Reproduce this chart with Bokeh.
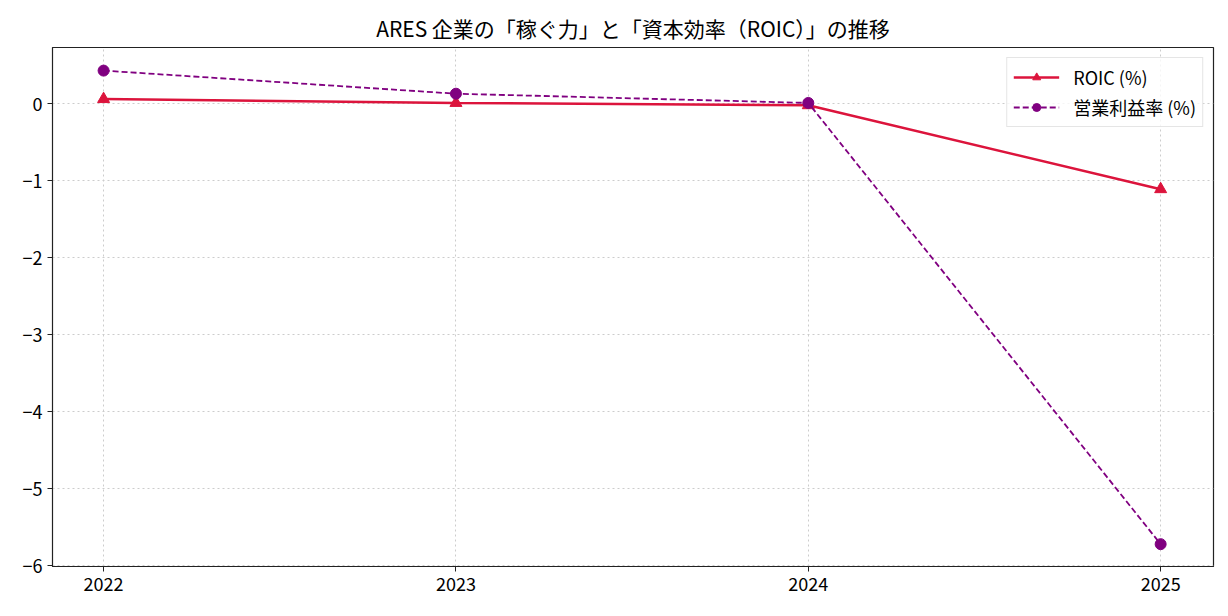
from bokeh.plotting import figure
from bokeh.models import FixedTicker, Range1d, Legend
from bokeh.embed import file_html
from bokeh.resources import INLINE

years = [2022, 2023, 2024, 2025]
roic = [0.06, 0.01, -0.02, -1.11]
op_margin = [0.43, 0.13, 0.01, -5.72]
y_ticks = [0, -1, -2, -3, -4, -5, -6]
title_text = "ARES 企業の「稼ぐ力」と「資本効率（ROIC）」の推移"

FONT = "Noto Sans CJK JP"

p = figure(width=1228, height=616, output_backend="svg", toolbar_location=None,
           x_range=Range1d(2021.855, 2025.15), y_range=Range1d(-6.01, 0.73),
           min_border_left=52, min_border_right=15, min_border_top=47, min_border_bottom=50)

p.title.text = title_text
p.title.align = "center"
p.title.text_font = FONT
p.title.text_font_size = "21px"
p.title.text_font_style = "normal"
p.title.text_color = "black"

p.outline_line_color = "#222222"
p.outline_line_width = 1.2

for ax in (p.xaxis, p.yaxis):
    ax.axis_line_color = "#222222"
    ax.major_tick_line_color = "#222222"
    ax.major_tick_out = 5
    ax.major_tick_in = 0
    ax.minor_tick_line_color = None
    ax.major_label_text_font = FONT
    ax.major_label_text_font_size = "18px"
    ax.major_label_text_color = "black"

p.xaxis.ticker = FixedTicker(ticks=years)
p.yaxis.ticker = FixedTicker(ticks=y_ticks)
p.yaxis.major_label_overrides = {t: (str(t).replace("-", "−")) for t in y_ticks}

p.grid.grid_line_color = "#cccccc"
p.grid.grid_line_dash = "2 3"
p.grid.grid_line_width = 1

r1 = p.line(years, roic, line_color="crimson", line_width=2.5)
r1m = p.scatter(years, roic, marker="triangle", size=12, fill_color="crimson", line_color="crimson")
r2 = p.line(years, op_margin, line_color="purple", line_width=1.8, line_dash="6 3")
r2m = p.scatter(years, op_margin, marker="circle", size=11, fill_color="purple", line_color="purple")

legend = Legend(items=[("ROIC (%)", [r1, r1m]), ("営業利益率 (%)", [r2, r2m])],
                location="top_right")
legend.label_text_font = FONT
legend.label_text_font_size = "18px"
legend.label_text_color = "black"
legend.border_line_color = "#cccccc"
legend.border_line_width = 1
legend.background_fill_alpha = 0.8
legend.glyph_width = 46
legend.label_standoff = 14
legend.spacing = 4
legend.padding = 6
legend.margin = 10
p.add_layout(legend)

open("out.html", "w").write(file_html(p, INLINE))
